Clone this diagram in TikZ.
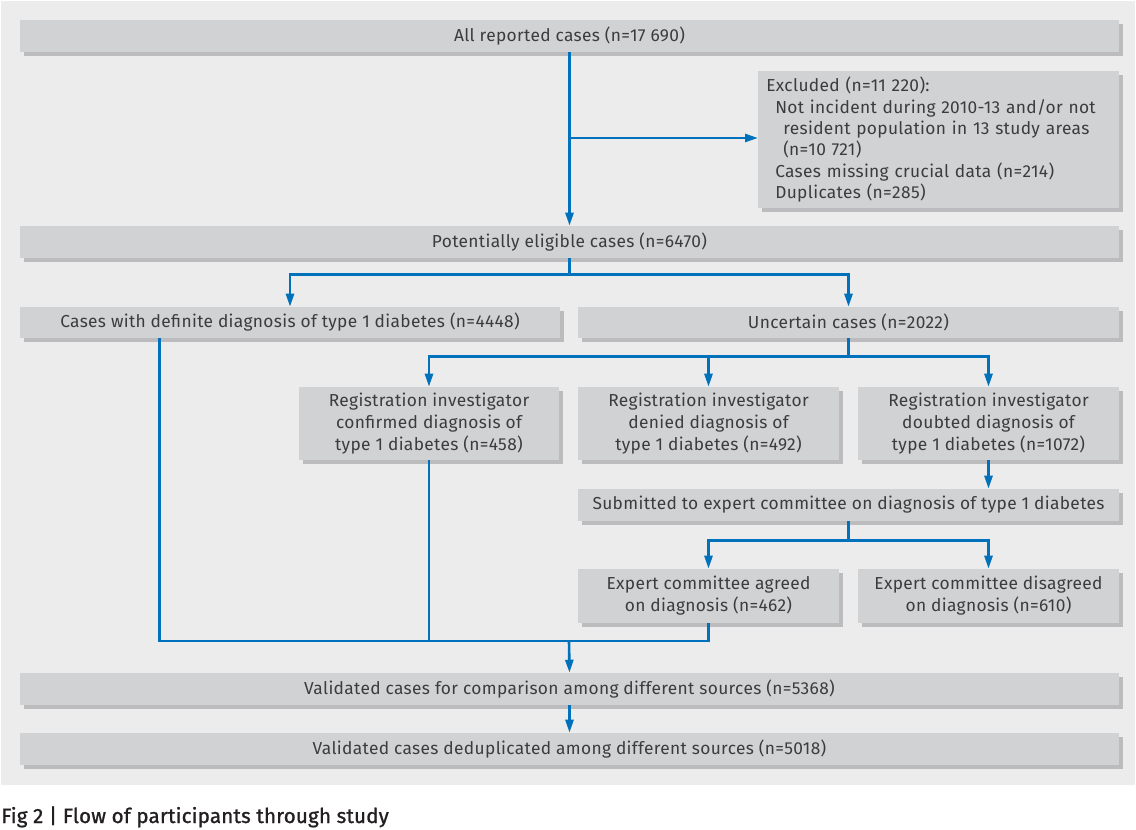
\documentclass[tikz,border=0pt]{standalone}
\usepackage{fontspec}
\setmainfont[LetterSpace=2]{Fira Sans}
\newfontfamily\capfamily[FakeBold=1.2,LetterSpace=1]{Fira Sans}
\usetikzlibrary{arrows.meta,shadows}
\newlength\px
\setlength\px{0.75pt}
\definecolor{bgc}{HTML}{ECECEC}
\definecolor{boxc}{HTML}{D1D2D4}
\definecolor{shadowc}{HTML}{BCBCBF}
\definecolor{linec}{HTML}{0071BA}
\definecolor{txtc}{HTML}{3C3C3E}
\definecolor{capc}{HTML}{231F20}
\begin{document}
\begin{tikzpicture}[x=0.75pt,y=-0.75pt,
  box/.style={fill=boxc, inner sep=0pt, text=txtc, align=center,
    font=\fontsize{13pt}{16.4pt}\selectfont,
    general shadow={fill=shadowc, shadow xshift=3pt, shadow yshift=-3pt}},
  conn/.style={draw=linec, line width=1.95pt, line join=miter},
  arr/.style={conn, -{Triangle[length=9.75pt, width=6pt]}}]
\useasboundingbox (0,0) rectangle (1136,830);
\fill[white] (0,0) rectangle (1136,830);
\fill[bgc] (1,1) rectangle (1135,785);

\node[box, minimum width=1099\px, minimum height=32\px] (top) at (569.5,36) {All reported cases (n=17 690)};
\node[box, anchor=north west, minimum width=361\px, minimum height=137\px, text width=345\px, inner xsep=8\px, align=left,
  font=\fontsize{13pt}{16.1pt}\selectfont] (excl) at (758,71)
  {Excluded (n=11 220):\\
   \hspace*{9\px}Not incident during 2010-13 and/or not\\
   \hspace*{17\px}resident population in 13 study areas\\
   \hspace*{17\px}(n=10 721)\\
   \hspace*{9\px}Cases missing crucial data (n=214)\\
   \hspace*{9\px}Duplicates (n=285)};
\node[box, minimum width=1099\px, minimum height=32\px] (elig) at (569.5,242) {Potentially eligible cases (n=6470)};
\node[box, minimum width=540\px, minimum height=31\px] (def) at (290,322.5) {Cases with definite diagnosis of type 1 diabetes (n=4448)};
\node[box, minimum width=541\px, minimum height=31\px] (unc) at (848.5,322.5) {Uncertain cases (n=2022)};
\node[box, minimum width=260\px, minimum height=73\px] (conf) at (429,423.5) {Registration investigator\\confirmed diagnosis of\\type 1 diabetes (n=458)};
\node[box, minimum width=261\px, minimum height=73\px] (den) at (708.5,423.5) {Registration investigator\\denied diagnosis of\\type 1 diabetes (n=492)};
\node[box, minimum width=261\px, minimum height=73\px] (dbt) at (988.5,423.5) {Registration investigator\\doubted diagnosis of\\type 1 diabetes (n=1072)};
\node[box, minimum width=541\px, minimum height=32\px] (sub) at (848.5,505) {Submitted to expert committee on diagnosis of type 1 diabetes};
\node[box, minimum width=261\px, minimum height=54\px] (agr) at (708.5,596) {Expert committee agreed\\on diagnosis (n=462)};
\node[box, minimum width=261\px, minimum height=54\px] (dis) at (988.5,596) {Expert committee disagreed\\on diagnosis (n=610)};
\node[box, minimum width=1099\px, minimum height=32\px] (val) at (569.5,689) {Validated cases for comparison among different sources (n=5368)};
\node[box, minimum width=1099\px, minimum height=32\px] (ded) at (569.5,749) {Validated cases deduplicated among different sources (n=5018)};

\node[anchor=base west, inner sep=0pt, text=capc, font=\capfamily\fontsize{15.4pt}{18pt}\selectfont] (cap) at (1,823) {Fig 2 | Flow of participants through study};

% connectors
\coordinate (j1) at (569,138);
\coordinate (m) at (569,641);
\draw[arr] (top.south) -- (elig.north);
\draw[arr] (j1) -- (excl.west |- j1);
\draw[arr] (elig.south) -- ++(0,16) -| (def.north);
\draw[arr] (elig.south) -- ++(0,16) -| (unc.north);
\draw[arr] (unc.south) -- ++(0,18) -| (conf.north);
\draw[arr] (unc.south) -- ++(0,18) -| (den.north);
\draw[arr] (unc.south) -- ++(0,18) -| (dbt.north);
\draw[arr] (dbt.south) -- (dbt.south |- sub.north);
\draw[arr] (sub.south) -- ++(0,19) -| (agr.north);
\draw[arr] (sub.south) -- ++(0,19) -| (dis.north);
\draw[conn] ([xshift=140\px]def.south west) |- (agr.south |- m) -- (agr.south);
\draw[conn] (conf.south) -- (conf.south |- m);
\draw[arr] (m) -- (val.north);
\draw[arr] (val.south) -- (ded.north);
\end{tikzpicture}
\end{document}
